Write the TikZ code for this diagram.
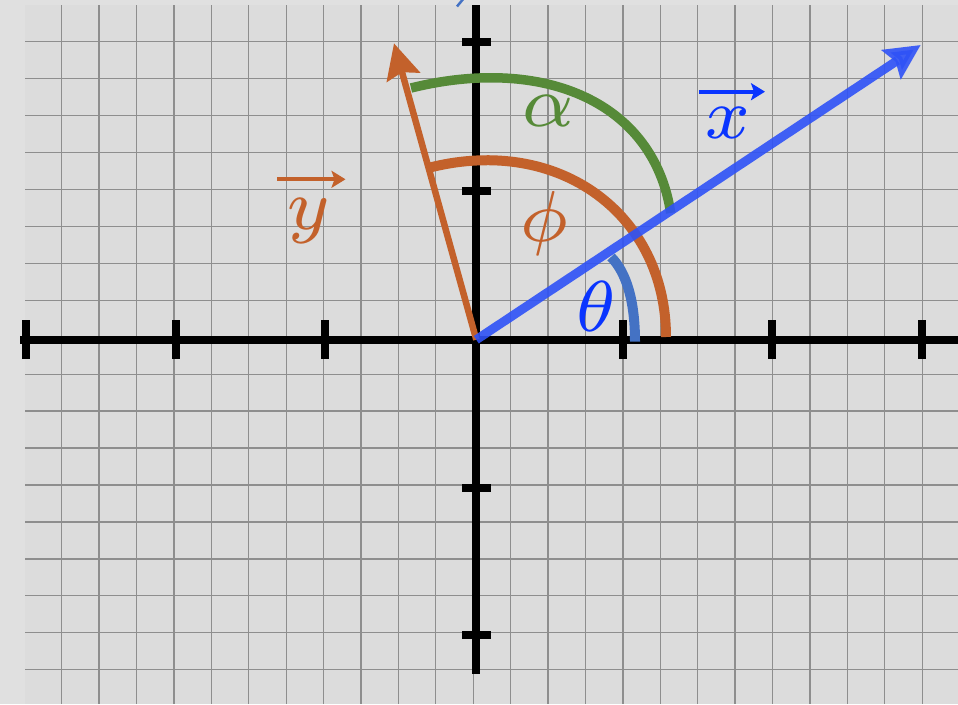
\documentclass[tikz,border=0pt]{standalone}
\usepackage{amsmath}
\usepackage{graphicx}
\usetikzlibrary{arrows.meta}
\definecolor{bgout}{HTML}{E0E0E0}
\definecolor{bgin}{HTML}{DCDCDC}
\definecolor{gridc}{HTML}{8E8E8E}
\definecolor{vecblue}{HTML}{2F52F7}
\definecolor{lblblue}{HTML}{0A35FF}
\definecolor{arcblue}{HTML}{4472C4}
\definecolor{orng}{HTML}{C3612B}
\definecolor{grn}{HTML}{568A38}
\newcommand{\biglbl}[1]{\scalebox{10.3}{$\scriptstyle #1$}}
\tikzset{
  gridline/.style={draw=gridc, line width=1.3pt},
  axisline/.style={draw=black, line width=8pt},
  arcline/.style={line width=10pt},
  vecline/.style={-{Stealth[length=35pt,width=34pt,inset=5pt]}},
  overarrow/.style={line width=4.2pt, -{Stealth[length=14pt,width=17pt,inset=3pt]}},
  lbl/.style={inner sep=0pt}
}
\begin{document}
\begin{tikzpicture}[x=1pt,y=-1pt]
\useasboundingbox (0,0) rectangle (958,704);
\clip (0,0) rectangle (958,704);
\fill[bgout] (0,0) rectangle (958,704);
\fill[bgin] (25,5) rectangle (958,704);
% grid
\foreach \k in {1,...,24} \draw[gridline] ({24.3+37.41*\k},5) -- ({24.3+37.41*\k},704);
\foreach \k in {0,...,17} \draw[gridline] (25,{41.7+36.94*\k}) -- (958,{41.7+36.94*\k});
% axes
\coordinate (O) at (476.3,339.7);
\coordinate (xl) at (20,339.7);
\coordinate (xr) at (960,339.7);
\coordinate (yt) at (476.3,5);
\coordinate (yb) at (476.3,674.3);
\draw[axisline] (xl) -- (xr);
\draw[axisline] (yt) -- (yb);
\foreach \t in {26,175.7,325.3,622.7,772.4,922.2} \draw[axisline] (\t,320.4) -- (\t,359);
\foreach \t in {41.7,191.2,488,634.5} \draw[axisline] (462.3,\t) -- (490.7,\t);
% arcs
\draw[arcline, grn, line width=9.5pt] (411,88) .. controls (545,55) and (654,103) .. (670.7,213);
\draw[arcline, orng] (430,167.5) .. controls (560,135) and (666,215) .. (666,337);
\draw[arcline, arcblue] (611,257) .. controls (626,272) and (635,300) .. (635,341.7);
% vectors
\coordinate (ytip) at (394,43.3);
\coordinate (xtip) at (920.7,45);
\draw[vecline, orng, line width=6.5pt] (O) -- (ytip);
\draw[vecline, vecblue, line width=9pt, opacity=0.9] (O) -- (xtip);
% small clipped mark at top
\coordinate (m1) at (457,6.5);
\coordinate (m2) at (464,-2);
\draw[arcblue, line width=2.5pt] (m1) -- (m2);
% labels
\node[lbl, text=grn] (alpha) at (548,111) {\biglbl{\alpha}};
\node[lbl, text=orng] (phi) at (544.3,223.3) {\biglbl{\phi}};
\node[lbl, text=lblblue] (theta) at (596.7,306.7) {\biglbl{\theta}};
\node[lbl, text=lblblue] (xlab) at (728,123) {\biglbl{x}};
\node[lbl, text=orng] (ylab) at (309,221) {\biglbl{y}};
% arrows over the vector names
\coordinate (xa1) at (699,91.7);
\coordinate (xa2) at (765,91.7);
\coordinate (ya1) at (277.3,179.3);
\coordinate (ya2) at (345.5,179.3);
\draw[overarrow, lblblue] (xa1) -- (xa2);
\draw[overarrow, orng] (ya1) -- (ya2);
\end{tikzpicture}
\end{document}
